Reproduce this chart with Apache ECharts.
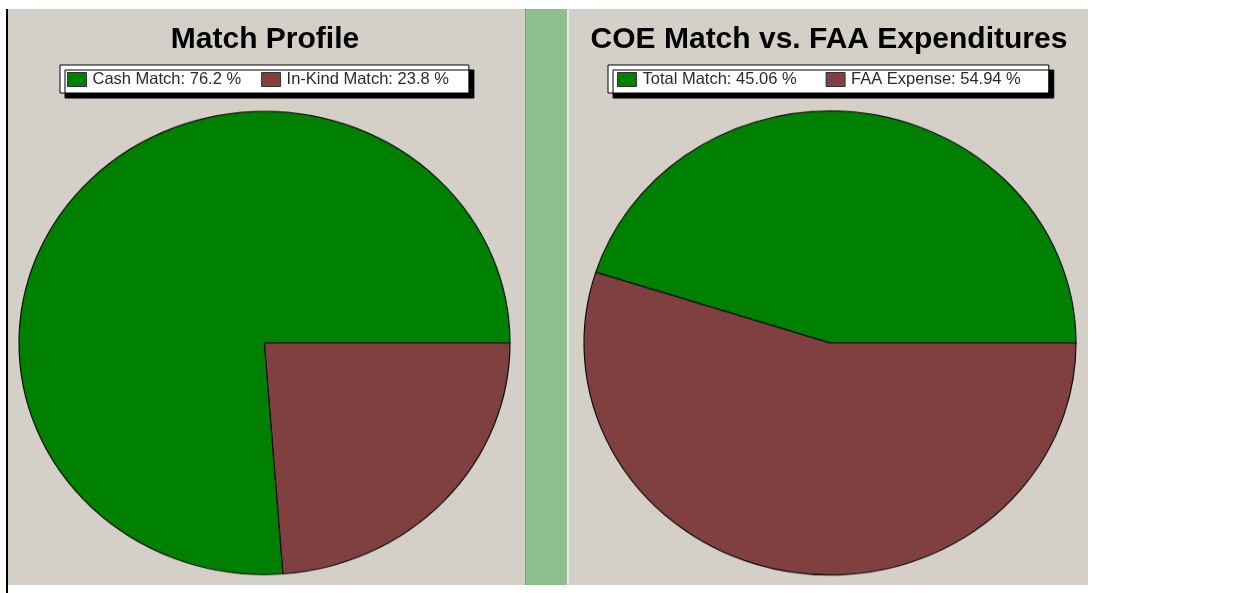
<!DOCTYPE html>
<html>
<head>
<meta charset="utf-8">
<script src="https://cdn.jsdelivr.net/npm/echarts@6/dist/echarts.min.js"></script>
<style>
  html, body { margin: 0; padding: 0; background: #ffffff; }
  body { width: 1255px; height: 593px; position: relative; overflow: hidden; }
  .abs { position: absolute; }
  #edge { left: 6px; top: 9px; width: 2px; height: 584px; background: #000; }
  #panelL { left: 8px; top: 9px; width: 517px; height: 576px; background: #d4d0c8; }
  #strip { left: 525px; top: 9px; width: 42px; height: 576px; background: #8fbf8f; border-left: 1px solid #7aa27a; box-sizing: border-box; }
  #stripHi { left: 567px; top: 9px; width: 2px; height: 576px; background: #e2efe2; }
  #panelR { left: 569px; top: 9px; width: 519px; height: 576px; background: #d4d0c8; }
  #pies { left: 0; top: 0; width: 1255px; height: 629px; transform: scaleY(0.9431); transform-origin: 0 0; }
  #overlay { left: 0; top: 0; width: 1255px; height: 593px; }
</style>
</head>
<body>
<div id="edge" class="abs"></div>
<div id="panelL" class="abs"></div>
<div id="strip" class="abs"></div>
<div id="stripHi" class="abs"></div>
<div id="panelR" class="abs"></div>
<div id="pies" class="abs"></div>
<div id="overlay" class="abs"></div>
<script>
// ---- data ----
const titles = ['Match Profile', 'COE Match vs. FAA Expenditures'];
const leftCategories = ['Cash Match', 'In-Kind Match'];
const leftValues = [76.2, 23.8];
const rightCategories = ['Total Match', 'FAA Expense'];
const rightValues = [45.06, 54.94];
const sliceColors = ['#008000', '#804040'];

const FONT = '"Liberation Sans", Arial, sans-serif';
const SY = 0.9431; // vertical squash giving the elliptical pies

function toData(cats, vals) {
  return cats.map((c, i) => ({ name: c, value: vals[i], itemStyle: { color: sliceColors[i] } }));
}
const leftData = toData(leftCategories, leftValues);
const rightData = toData(rightCategories, rightValues);

const pieBase = {
  type: 'pie',
  startAngle: 0,
  clockwise: false,
  label: { show: false },
  labelLine: { show: false },
  silent: true,
  animation: false,
  itemStyle: { borderColor: '#0d0d0d', borderWidth: 1.2 }
};

// ---- visible pies (scaled vertically by CSS into ellipses) ----
const pieChart = echarts.init(document.getElementById('pies'), null, { renderer: 'canvas' });
pieChart.setOption({
  animation: false,
  backgroundColor: 'transparent',
  series: [
    Object.assign({}, pieBase, { center: [264.5, 343 / SY], radius: 245.5, data: leftData }),
    Object.assign({}, pieBase, { center: [830, 343 / SY], radius: 246, data: rightData })
  ]
});

// ---- overlay: titles and legends ----
const valueOf = {};
leftCategories.forEach((c, i) => valueOf[c] = leftValues[i]);
rightCategories.forEach((c, i) => valueOf[c] = rightValues[i]);

const legendBase = {
  orient: 'horizontal',
  top: 65,
  icon: 'rect',
  itemWidth: 19,
  itemHeight: 14,
  itemGap: 20,
  backgroundColor: '#ffffff',
  borderColor: '#000000',
  borderWidth: 1,
  borderRadius: 0,
  shadowColor: '#000000',
  shadowBlur: 0,
  shadowOffsetX: 5,
  shadowOffsetY: 5,
  selectedMode: false,
  itemStyle: { opacity: 1, borderColor: '#333', borderWidth: 1 },
  textStyle: { fontFamily: FONT, fontSize: 16.5, color: '#2a2a2a', padding: [0, 0, 0, 1] },
  formatter: function (name) { return name + ': ' + valueOf[name] + ' %'; }
};

const hiddenPie = {
  type: 'pie',
  radius: 1,
  silent: true,
  label: { show: false },
  labelLine: { show: false },
  itemStyle: { opacity: 0 },
  emphasis: { disabled: true }
};

const overlay = echarts.init(document.getElementById('overlay'), null, { renderer: 'canvas' });
overlay.setOption({
  animation: false,
  backgroundColor: 'transparent',
  legend: [
    Object.assign({}, legendBase, { left: 60, padding: [6, 20, 5, 7], itemGap: 20, data: leftCategories }),
    Object.assign({}, legendBase, { left: 608, padding: [6, 28, 5, 9], itemGap: 29, data: rightCategories })
  ],
  graphic: [
    { type: 'text', x: 265, y: 40, silent: true,
      style: { text: titles[0], font: 'bold 30px ' + FONT, fill: '#000', textAlign: 'center', textVerticalAlign: 'middle' } },
    { type: 'text', x: 829, y: 40, silent: true,
      style: { text: titles[1], font: 'bold 30px ' + FONT, fill: '#000', textAlign: 'center', textVerticalAlign: 'middle' } }
  ],
  series: [
    Object.assign({}, hiddenPie, { center: [265, 343], data: leftData }),
    Object.assign({}, hiddenPie, { center: [829, 343], data: rightData })
  ]
});
</script>
</body>
</html>
